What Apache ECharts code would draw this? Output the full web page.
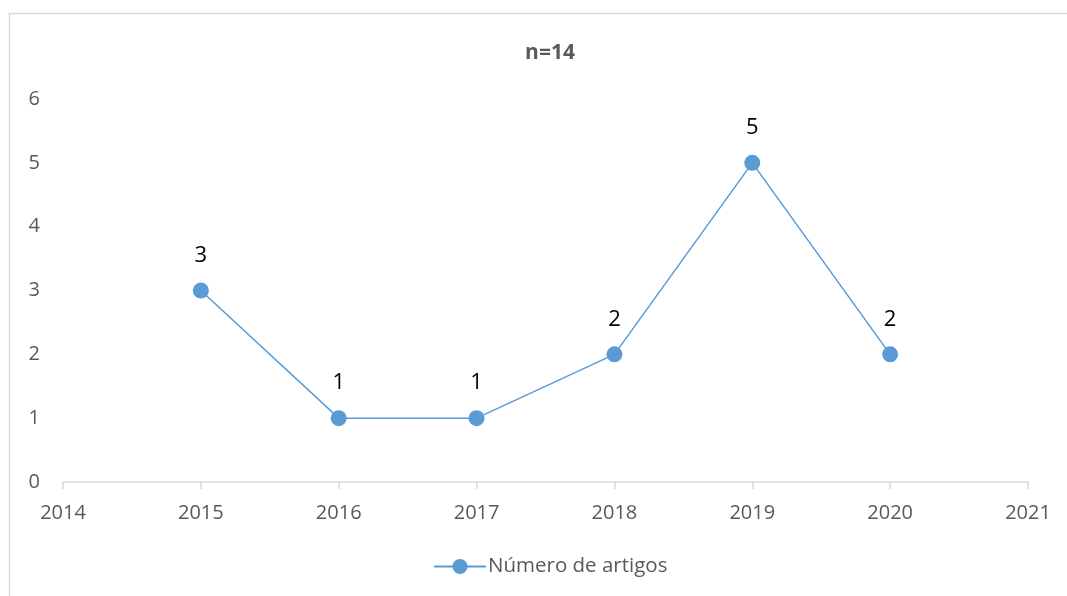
<!DOCTYPE html>
<html>
<head>
<meta charset="utf-8">
<script src="https://cdn.jsdelivr.net/npm/echarts@6/dist/echarts.min.js"></script>
<style>
  html, body { margin: 0; padding: 0; background: #fff; }
  #chart { width: 1067px; height: 596px; }
</style>
</head>
<body>
<div id="chart"></div>
<script>
const years = [2015, 2016, 2017, 2018, 2019, 2020]
const artigos = [3, 1, 1, 2, 5, 2]
const seriesName = 'Número de artigos'
const titleText = 'n=14'

const chart = echarts.init(document.getElementById('chart'), null, { renderer: 'canvas' })
const font = '"Open Sans", "Noto Sans", sans-serif'

chart.setOption({
  backgroundColor: '#fff',
  animation: false,
  graphic: [{
    type: 'rect', silent: true,
    shape: { x: 9.5, y: 13.5, width: 1100, height: 650 },
    style: { fill: 'none', stroke: '#d9d9d9', lineWidth: 1.5 }
  }],
  title: {
    text: titleText, left: 545, top: 38, textAlign: 'center',
    textStyle: { color: '#595959', fontSize: 21, fontWeight: 'bold', fontFamily: font }
  },
  legend: {
    bottom: 14, left: 550, itemWidth: 52, itemHeight: 19, itemGap: 10,
    data: [seriesName], orient: 'horizontal',
    textStyle: { color: '#595959', fontSize: 20.5, fontFamily: font, padding: [0, 0, 0, -3] }
  },
  grid: { left: 63, right: 39, top: 99, bottom: 114 },
  xAxis: {
    type: 'value', min: 2014, max: 2021, interval: 1,
    axisLine: { lineStyle: { color: '#d9d9d9', width: 1.5 } },
    axisTick: { show: true, length: 7, inside: false, lineStyle: { color: '#d9d9d9', width: 1.5 } },
    axisLabel: { color: '#595959', fontSize: 20, fontFamily: font, margin: 21, formatter: v => String(v) },
    splitLine: { show: false }
  },
  yAxis: {
    type: 'value', min: 0, max: 6, interval: 1,
    axisLine: { show: false }, axisTick: { show: false },
    axisLabel: { color: '#595959', fontSize: 20, fontFamily: font, margin: 23 },
    splitLine: { show: false }
  },
  series: [{
    name: seriesName, type: 'line',
    data: years.map((y, i) => [y, artigos[i]]),
    symbol: 'circle', symbolSize: 16,
    lineStyle: { color: '#5b9bd5', width: 1.5 },
    itemStyle: { color: '#5b9bd5' },
    label: { show: true, position: 'top', distance: 16, color: '#000', fontSize: 22, fontFamily: font }
  }]
})
// centre the legend block on x=550 like the reference
const lg = chart.getModel().getComponent('legend')
const view = chart.getViewOfComponentModel(lg)
if (view && view.group) {
  const r = view.group.getBoundingRect()
  chart.setOption({ legend: { left: Math.round(550 - r.width / 2) } })
}
</script>
</body>
</html>
